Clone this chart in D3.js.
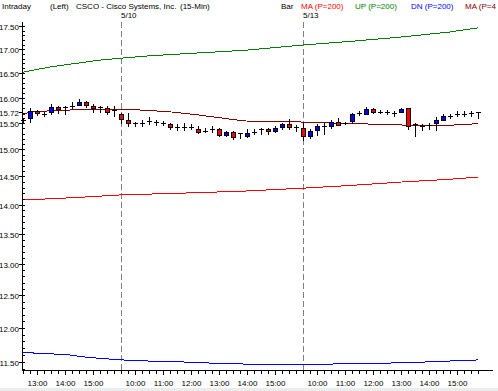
<!DOCTYPE html>
<html><head><meta charset="utf-8">
<script src="https://cdn.jsdelivr.net/npm/d3@7"></script>
<style>
body{margin:0;background:#fff;overflow:hidden}
svg{display:block}
text{font-family:"Liberation Sans",Arial,sans-serif;font-size:8px;fill:#000}
</style>
</head><body><svg id="c" width="498" height="391"></svg>
<script>
// ---------- DATA ----------
const sessions = [
  {date:"5/9",  start:"12:30", bars:14},
  {date:"5/10", start:"9:30",  bars:26},
  {date:"5/13", start:"9:30",  bars:26}
];
const openP  = [15.56,15.59,15.73,15.68,15.71,15.81,15.81,15.83,15.86,15.92,15.84,15.81,15.79,15.77,
  15.67,15.56,15.50,15.51,15.54,15.52,15.50,15.48,15.43,15.43,15.43,15.39,15.35,15.38,15.38,15.27,15.32,15.31,15.26,15.32,15.38,15.39,15.35,15.43,15.48,15.43,
  15.41,15.26,15.36,15.45,15.44,15.53,15.50,15.54,15.70,15.68,15.78,15.72,15.71,15.70,15.72,15.79,15.48,15.45,15.46,15.50,15.57,15.63,15.67,15.68,15.70,15.72];
const highP  = [15.58,15.79,15.75,15.72,15.88,15.83,15.83,15.92,15.97,15.94,15.88,15.83,15.83,15.83,
  15.70,15.69,15.53,15.56,15.61,15.57,15.55,15.51,15.48,15.50,15.48,15.44,15.41,15.44,15.41,15.34,15.34,15.31,15.38,15.38,15.41,15.41,15.44,15.51,15.58,15.46,
  15.50,15.38,15.48,15.50,15.57,15.59,15.53,15.70,15.74,15.82,15.80,15.76,15.75,15.74,15.80,15.80,15.50,15.48,15.50,15.61,15.68,15.67,15.74,15.73,15.74,15.72];
const lowP   = [15.51,15.52,15.65,15.63,15.67,15.70,15.67,15.79,15.86,15.82,15.71,15.71,15.67,15.64,
  15.50,15.45,15.45,15.45,15.48,15.46,15.46,15.38,15.37,15.37,15.38,15.31,15.32,15.33,15.25,15.25,15.19,15.21,15.24,15.29,15.29,15.29,15.33,15.39,15.38,15.35,
  15.18,15.22,15.28,15.30,15.40,15.46,15.48,15.51,15.65,15.67,15.70,15.69,15.67,15.63,15.71,15.38,15.26,15.36,15.38,15.36,15.56,15.60,15.63,15.64,15.63,15.60];
const closeP = [15.56,15.73,15.70,15.68,15.81,15.77,15.81,15.83,15.92,15.86,15.79,15.81,15.72,15.75,
  15.58,15.51,15.50,15.51,15.54,15.52,15.50,15.42,15.43,15.43,15.43,15.33,15.35,15.38,15.27,15.32,15.24,15.31,15.31,15.32,15.38,15.35,15.41,15.48,15.42,15.43,
  15.26,15.35,15.45,15.45,15.53,15.47,15.50,15.68,15.70,15.78,15.72,15.72,15.71,15.70,15.78,15.45,15.48,15.45,15.46,15.57,15.64,15.65,15.67,15.68,15.70,15.72];

// indicator lines: bar index + value
const maLongBars  = [0,7,14,25,32,40,47,54,61,65];
const maLongVals  = [14.08,14.12,14.17,14.21,14.24,14.29,14.34,14.40,14.45,14.49];
const upBars      = [0,4,8,11,14,18,25,32,40,47,54,61,65];
const upVals      = [16.52,16.63,16.71,16.77,16.81,16.86,16.92,16.98,17.09,17.17,17.26,17.37,17.46];
const dnBars      = [0,3,6,9,12,15,19,23,28,34,40,47,55,60,65];
const dnVals      = [11.64,11.62,11.61,11.57,11.545,11.525,11.51,11.50,11.48,11.465,11.465,11.475,11.49,11.51,11.53];
const maShortBars = [0,1,4,9,14,17,21,25,30,32,37,40,45,55,61,64,65];
const maShortVals = [15.66,15.72,15.74,15.77,15.77,15.755,15.72,15.66,15.57,15.54,15.535,15.52,15.50,15.46,15.46,15.48,15.50];

const yTickValues = [11.5,12,12.5,13,13.5,14,14.5,15,15.5,16,16.5,17,17.5];
const lastPrice = 15.72;
const legend = [
  {text:"Bar", color:"#000000"},
  {text:"MA (P=200)", color:"#ff0000"},
  {text:"UP (P=200)", color:"#008000"},
  {text:"DN (P=200)", color:"#0000ff"},
  {text:"MA (P=4", color:"#800000"}
];

// ---------- BUILD BAR TIMES ----------
const bars = [];
sessions.forEach((s,si)=>{
  let [h,m] = s.start.split(":").map(Number);
  for(let k=0;k<s.bars;k++){
    bars.push({id:bars.length, date:s.date, h, m, first:k===0 && si>0});
    m+=15; if(m>=60){m-=60;h++;}
  }
});

// ---------- SCALES ----------
const svg = d3.select("#c");
const plotTop=22, plotBottom=370, plotLeft=22, plotRight=493;
const x = d3.scalePoint().domain(bars.map(b=>b.id)).range([23,478]);
const y = d3.scaleLog().domain([11.5,17.5]).range([362,26]);

svg.append("rect").attr("x",0).attr("y",388).attr("width",498).attr("height",3).attr("fill","#ececec");

// day separators
bars.filter(b=>b.first).forEach(b=>{
  const xx = Math.round(x(b.id))+0.5;
  svg.append("line").attr("x1",xx).attr("x2",xx).attr("y1",plotTop).attr("y2",plotBottom)
    .attr("stroke","#808080").attr("stroke-dasharray","6,3");
  svg.append("text").attr("x",xx-0.5).attr("y",18).text(b.date);
});

// indicator lines
const lineGen = d3.line().x(d=>x(d[0])).y(d=>y(d[1]));
function drawLine(idx, vals, color){
  svg.append("path").datum(idx.map((b,i)=>[b,vals[i]]))
    .attr("d",lineGen).attr("fill","none").attr("stroke",color).attr("stroke-width",1)
    .attr("shape-rendering","crispEdges");
}
drawLine(upBars, upVals, "#008000");
drawLine(maLongBars, maLongVals, "#ff0000");
drawLine(dnBars, dnVals, "#0000ff");
drawLine(maShortBars, maShortVals, "#800000");

// candles
const g = svg.append("g").attr("shape-rendering","crispEdges");
bars.forEach((b,i)=>{
  const cx = Math.round(x(b.id));
  const yo=y(openP[i]), yc=y(closeP[i]), yh=y(highP[i]), yl=y(lowP[i]);
  g.append("line").attr("x1",cx+0.5).attr("x2",cx+0.5).attr("y1",Math.round(yh)).attr("y2",Math.round(yl)+1).attr("stroke","#000");
  if(Math.abs(yo-yc)<1.5){
    const yy=Math.round((yo+yc)/2)+0.5;
    g.append("line").attr("x1",cx-2).attr("x2",cx+3).attr("y1",yy).attr("y2",yy).attr("stroke","#000");
  } else {
    const t=Math.round(Math.min(yo,yc)), bt=Math.round(Math.max(yo,yc));
    g.append("rect").attr("x",cx-1.5).attr("y",t+0.5).attr("width",4).attr("height",bt-t)
      .attr("fill", closeP[i]>openP[i] ? "#0000ff" : "#ff0000").attr("stroke","#000");
  }
});

// y axis
const ax = svg.append("g").attr("shape-rendering","crispEdges");
ax.append("line").attr("x1",plotLeft+0.5).attr("x2",plotLeft+0.5).attr("y1",plotTop).attr("y2",plotBottom+1).attr("stroke","#000");
d3.range(114,176).map(v=>v/10).forEach(v=>{
  const yy=Math.round(y(v))+0.5;
  ax.append("line").attr("x1",plotLeft).attr("x2",plotLeft+3).attr("y1",yy).attr("y2",yy).attr("stroke","#000");
});
yTickValues.concat([lastPrice]).forEach(v=>{
  const yy=Math.round(y(v))+0.5;
  ax.append("line").attr("x1",plotLeft-3).attr("x2",plotLeft).attr("y1",yy).attr("y2",yy).attr("stroke","#000");
  svg.append("text").attr("x",plotLeft-3).attr("y",yy+3).attr("text-anchor","end").text(d3.format(".2f")(v));
});

// x axis
ax.append("line").attr("x1",plotLeft).attr("x2",plotRight).attr("y1",plotBottom+0.5).attr("y2",plotBottom+0.5).attr("stroke","#000");
bars.forEach(b=>{
  const xx=Math.round(x(b.id))+0.5;
  ax.append("line").attr("x1",xx).attr("x2",xx).attr("y1",plotBottom).attr("y2",plotBottom+(b.m===0?5:4)).attr("stroke","#000");
  if(b.m===0){
    svg.append("text").attr("x",xx).attr("y",386).attr("text-anchor","middle").text(b.h+":00");
  }
});

// header
svg.append("text").attr("x",2).attr("y",9).text("Intraday");
svg.append("text").attr("x",50).attr("y",9).text("(Left)");
svg.append("text").attr("x",76).attr("y",9).text("CSCO - Cisco Systems, Inc.");
svg.append("text").attr("x",180).attr("y",9).text("(15-Min)");
const legX=[281,301,355,411,465];
legend.forEach((l,i)=>{
  svg.append("text").attr("x",legX[i]).attr("y",9).style("fill",l.color).text(l.text);
});
</script>
</body></html>
